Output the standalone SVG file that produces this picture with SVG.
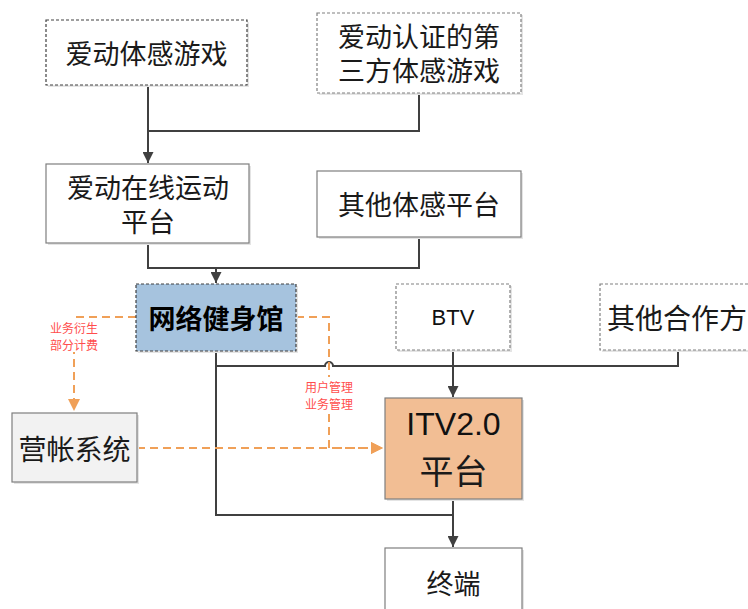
<svg xmlns="http://www.w3.org/2000/svg" width="748" height="609" viewBox="0 0 748 609">
<defs>
<style>
.box{stroke-width:1.2}
.dash{stroke:#404040;stroke-dasharray:3 2;fill:#fff}
.dashl{stroke:#808080;stroke-dasharray:3 2;fill:#fff}
.solid{stroke:#7f7f7f;fill:#fff}
.sh{fill:#e4e4e4}
.t{font-family:"Noto Sans CJK SC","Noto Sans",sans-serif;font-size:27px;fill:#1a1a1a;text-anchor:middle;dominant-baseline:central}
.lat{font-family:"Liberation Sans",Arial,sans-serif;fill:#111;text-anchor:middle;dominant-baseline:central}
.lbl{font-family:"Noto Sans CJK SC","Noto Sans",sans-serif;font-size:12px;fill:#ff4d4d;text-anchor:middle;dominant-baseline:central}
.c{fill:none;stroke:#404040;stroke-width:2}
.o{fill:none;stroke:#f0a058;stroke-width:2;stroke-dasharray:8 5}
</style>
<marker id="ab" viewBox="0 0 10 10" refX="10" refY="5" markerWidth="5.5" markerHeight="5.5" orient="auto" markerUnits="strokeWidth">
<path d="M0,0 L10,5 L0,10 z" fill="#404040"/>
</marker>
<marker id="ao" viewBox="0 0 10 10" refX="10" refY="5" markerWidth="6" markerHeight="6" orient="auto" markerUnits="strokeWidth">
<path d="M0,0 L10,5 L0,10 z" fill="#f0a058"/>
</marker>
</defs>
<rect width="748" height="609" fill="#fff"/>

<g id="connectors">
<path class="c" d="M148,85 V163" marker-end="url(#ab)"/>
<path class="c" d="M419,93 V131 H148"/>
<path class="c" d="M148,243 V268 H419 V237"/>
<path class="c" d="M216,268 V283" marker-end="url(#ab)"/>
<path class="c" d="M216,351 V515 H453"/>
<path class="c" d="M216,366 H325 A4,4 0 0 1 333,366 H678 V351"/>
<path class="c" d="M453,350 V397" marker-end="url(#ab)"/>
<path class="c" d="M453,499 V547" marker-end="url(#ab)"/>
<path class="o" d="M136,317 H74 V411" marker-end="url(#ao)"/>
<path class="o" d="M296,317 H329 V448 H383" marker-end="url(#ao)"/>
<path class="o" d="M137,448 H383" marker-end="url(#ao)"/>
<rect x="48" y="318" width="52" height="34" fill="#fff"/>
<text class="lbl" x="74" y="327">业务衍生<tspan x="74" dy="17">部分计费</tspan></text>
<rect x="302" y="377" width="54" height="34" fill="#fff"/>
<text class="lbl" x="329" y="386">用户管理<tspan x="329" dy="17">业务管理</tspan></text>
</g>

<g id="n1">
<rect class="sh" x="48" y="22" width="201" height="65"/>
<rect class="box dash" x="46" y="20" width="201" height="65"/>
<text class="t" x="146.5" y="52">爱动体感游戏</text>
</g>
<g id="n2">
<rect class="sh" x="319" y="15" width="204" height="80"/>
<rect class="box dashl" x="317" y="13" width="204" height="80"/>
<text class="t" x="419" y="35">爱动认证的第<tspan x="419" dy="34">三方体感游戏</tspan></text>
</g>
<g id="n3">
<rect class="sh" x="48" y="166" width="203" height="79"/>
<rect class="box solid" x="46" y="164" width="203" height="79"/>
<text class="t" x="148" y="186">爱动在线运动<tspan x="148" dy="34">平台</tspan></text>
</g>
<g id="n4">
<rect class="sh" x="319" y="173" width="204" height="66"/>
<rect class="box solid" x="317" y="171" width="204" height="66"/>
<text class="t" x="419" y="203">其他体感平台</text>
</g>
<g id="n5">
<rect class="sh" x="138" y="286" width="160" height="67"/>
<rect class="box dash" x="136" y="284" width="160" height="67" style="fill:#a6c3de"/>
<text class="t" x="216" y="317" style="font-weight:bold;fill:#000">网络健身馆</text>
</g>
<g id="n6">
<rect class="sh" x="398" y="286" width="114" height="66"/>
<rect class="box dashl" x="396" y="284" width="114" height="66"/>
<text class="lat" x="453" y="317" font-size="22">BTV</text>
</g>
<g id="n7">
<rect class="sh" x="602" y="286" width="160" height="66"/>
<rect class="box dashl" x="600" y="284" width="160" height="66"/>
<text class="t" x="607" y="317" style="text-anchor:start;font-size:28px">其他合作方</text>
</g>
<g id="n8">
<rect class="sh" x="14" y="415" width="125" height="69"/>
<rect class="box solid" x="12" y="413" width="125" height="69" style="fill:#f2f2f2"/>
<text class="t" x="74.5" y="448" style="font-size:28px">营帐系统</text>
</g>
<g id="n9">
<rect class="sh" x="387" y="400" width="137" height="101"/>
<rect class="box solid" x="385" y="398" width="137" height="101" style="fill:#f2be94"/>
<text class="lat" x="453.5" y="424" font-size="32">ITV2.0</text>
<text class="t" x="453.5" y="469" style="font-size:34px">平台</text>
</g>
<g id="n10">
<rect class="sh" x="387" y="550" width="137" height="70"/>
<rect class="box solid" x="385" y="548" width="137" height="70"/>
<text class="t" x="453.5" y="582">终端</text>
</g>
</svg>
